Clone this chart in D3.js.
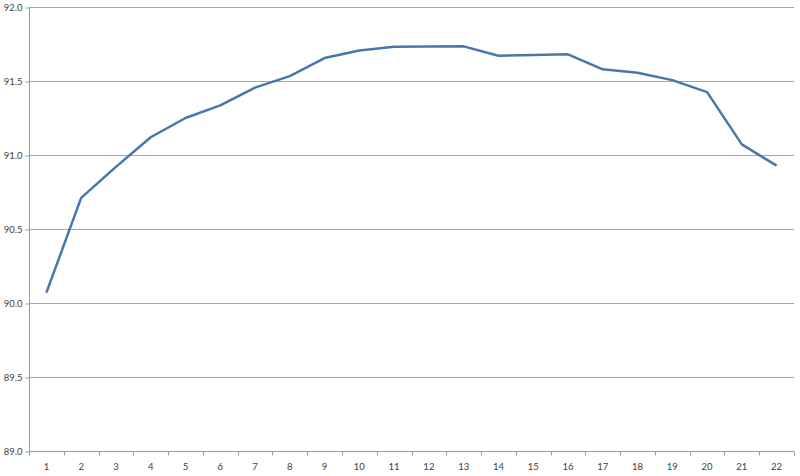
<!DOCTYPE html>
<html>
<head>
<meta charset="utf-8">
<script src="https://cdn.jsdelivr.net/npm/d3@7"></script>
<style>
  html, body { margin: 0; padding: 0; background: #fff; }
  svg { display: block; }
  .tick text { font-family: Lato, "Open Sans", sans-serif; font-size: 9.5px; fill: #404040; }
</style>
</head>
<body>
<main></main>
<script>
const categories = ["1","2","3","4","5","6","7","8","9","10","11","12","13","14","15","16","17","18","19","20","21","22"];
const values = [90.07, 90.71, 90.92, 91.12, 91.25, 91.335, 91.455, 91.533, 91.655, 91.706, 91.732, 91.733, 91.734, 91.671, 91.676, 91.68, 91.579, 91.556, 91.506, 91.425, 91.072, 90.928];
const yTicks = [89.0, 89.5, 90.0, 90.5, 91.0, 91.5, 92.0];

const w = 800, h = 476;
const margin = {left: 29, right: 6, top: 7, bottom: 25};

const svg = d3.select("main")
  .append("svg")
  .attr("width", w)
  .attr("height", h);

const xScale = d3.scaleBand()
  .domain(categories)
  .range([margin.left, w - margin.right]);

const yScale = d3.scaleLinear()
  .domain([89, 92])
  .range([h - margin.bottom, margin.top]);

// gridlines
svg.append("g")
  .selectAll("line")
  .data(yTicks.slice(1))
  .enter()
  .append("line")
  .attr("x1", margin.left)
  .attr("x2", w - margin.right)
  .attr("y1", d => Math.round(yScale(d)) + 0.5)
  .attr("y2", d => Math.round(yScale(d)) + 0.5)
  .attr("stroke", "#a6a6a6")
  .attr("stroke-width", 1);

// Y axis
const yAxis = d3.axisLeft(yScale)
  .tickValues(yTicks)
  .tickFormat(d3.format(".1f"))
  .tickSize(4)
  .tickPadding(3);
const gy = svg.append("g")
  .attr("transform", "translate(" + (margin.left + 0.5) + ",0.5)")
  .call(yAxis);
gy.selectAll("path, line").attr("stroke", "#9a9a9a");
gy.select(".domain").attr("d", "M0," + yScale(92) + "V" + yScale(89));

// X axis
const xAxis = d3.axisBottom(xScale).tickSize(0).tickPadding(12);
const gx = svg.append("g")
  .attr("transform", "translate(0," + (Math.round(yScale(89)) + 0.5) + ")")
  .call(xAxis);
gx.select(".domain").attr("stroke", "#9a9a9a").attr("d", "M" + margin.left + ",0H" + (w - margin.right));
gx.selectAll(".bound")
  .data(categories.concat(["end"]))
  .enter()
  .append("line")
  .attr("class", "bound")
  .attr("x1", (d, i) => Math.round(margin.left + i * xScale.step()) + 0.5)
  .attr("x2", (d, i) => Math.round(margin.left + i * xScale.step()) + 0.5)
  .attr("y1", 0)
  .attr("y2", 4)
  .attr("stroke", "#9a9a9a");

// line
const line = d3.line()
  .x((d, i) => xScale(categories[i]) + xScale.bandwidth() / 2)
  .y(d => yScale(d));

svg.append("path")
  .datum(values)
  .attr("fill", "none")
  .attr("stroke", "#4877ab")
  .attr("stroke-width", 2.5)
  .attr("stroke-linejoin", "round")
  .attr("d", line);
</script>
</body>
</html>
